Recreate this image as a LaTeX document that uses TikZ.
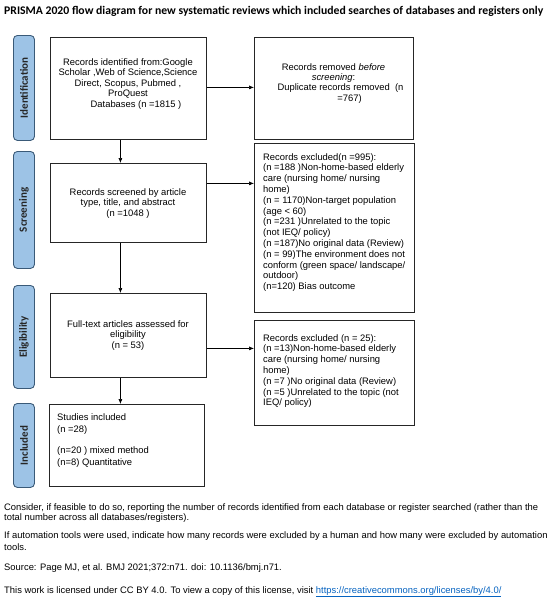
\documentclass[tikz,border=0pt]{standalone}
\usepackage{fontspec}
\setmainfont{Liberation Sans}
\newfontfamily\calibri{Carlito}
\usetikzlibrary{arrows.meta}
\definecolor{barfill}{HTML}{9DC3E6}
\definecolor{barline}{HTML}{3A5A78}
\definecolor{linkblue}{HTML}{0563C1}
\begin{document}
\begin{tikzpicture}[x=1pt,y=-1pt,
  box/.style={draw=black!85, line width=0.8pt, inner sep=0, anchor=north west},
  txt/.style={inner sep=0, font=\fontsize{9.4}{10.6}\selectfont},
  bar/.style={draw=barline, fill=barfill, line width=0.9pt, rounded corners=4pt, inner sep=0, anchor=north west, minimum width=21pt},
  barlabel/.style={rotate=90, inner sep=0, font=\calibri\bfseries\fontsize{11}{12}\selectfont, text=black!85},
  arr/.style={-{Latex[length=5pt,width=4pt]}, line width=0.6pt},
  foot/.style={anchor=base west, inner sep=0, font=\fontsize{9.4}{10}\selectfont}]
\useasboundingbox[fill=white] (0,0) rectangle (550,597);

% title
\node[anchor=base west, inner sep=0, font=\calibri\bfseries\fontsize{11.7}{13}\selectfont] (title) at (4,14)
  {PRISMA 2020 flow diagram for new systematic reviews which included searches of databases and registers only};

% side bars
\node[bar, minimum height=105pt] (bid) at (13,35) {};
\node[barlabel] (lid) at (bid.center) {Identification};
\node[bar, minimum height=117pt] (bsc) at (13,151) {};
\node[barlabel] (lsc) at (bsc.center) {Screening};
\node[bar, minimum height=103pt] (bel) at (13,285) {};
\node[barlabel] (lel) at (bel.center) {Eligibility};
\node[bar, minimum height=84pt] (bin) at (13,403) {};
\node[barlabel] (lin) at (bin.center) {Included};

% boxes
\node[box, minimum width=156pt, minimum height=102pt] (b1) at (50,37) {};
\node[box, minimum width=156pt, minimum height=79pt] (b2) at (50,163) {};
\node[box, minimum width=156pt, minimum height=84pt] (b3) at (50,293) {};
\node[box, minimum width=155pt, minimum height=82pt] (b4) at (49,404) {};
\node[box, minimum width=159pt, minimum height=102pt] (r1) at (254,37) {};
\node[box, minimum width=160pt, minimum height=169pt] (r2) at (254,143) {};
\node[box, minimum width=160pt, minimum height=105pt] (r3) at (254,320) {};

% texts
\node[txt, anchor=north, align=center] (t1) at (128,58)
  {Records identified from:Google\\Scholar ,Web of Science,Science\\Direct, Scopus, Pubmed ,\\ProQuest\\\hspace*{16pt}Databases (n =1815 )};
\node[txt, anchor=north, align=center] (t2) at (128,188)
  {Records screened by article\\type, title, and abstract\\(n =1048 )};
\node[txt, anchor=north, align=center] (t3) at (128,320)
  {Full-text articles assessed for\\eligibility\\(n = 53)};
\node[txt, anchor=north west, align=left, font=\fontsize{9.4}{12}\selectfont] (t4) at (57,413)
  {Studies included\\(n =28)\\[9pt](n=20 ) mixed method\\(n=8) Quantitative};
\node[txt, anchor=north, align=center, font=\fontsize{9.4}{10.4}\selectfont] (tr1) at (333.5,63)
  {Records removed \textit{before}\\\textit{screening}:\hspace*{10pt}\\\hspace*{14pt}Duplicate records removed\ \ (n\\\hspace*{32pt}=767)};
\node[txt, anchor=north west, align=left, font=\fontsize{9.4}{10.8}\selectfont] (tr2) at (263,153)
  {Records excluded(n =995):\\(n =188 )Non-home-based elderly\\care (nursing home/ nursing\\home)\\(n = 1170)Non-target population\\(age < 60)\\(n =231 )Unrelated to the topic\\(not IEQ/ policy)\\(n =187)No original data (Review)\\(n = 99)The environment does not\\conform (green space/ landscape/\\outdoor)\\(n=120) Bias outcome};
\node[txt, anchor=north west, align=left, font=\fontsize{9.4}{10.8}\selectfont] (tr3) at (263,334)
  {Records excluded (n = 25):\\(n =13)Non-home-based elderly\\care (nursing home/ nursing\\home)\\(n =7 )No original data (Review)\\(n =5 )Unrelated to the topic (not\\IEQ/ policy)};

% connectors
\draw[arr] ([xshift=-8pt]b1.south) -- ([xshift=-8pt]b2.north);
\draw[arr] ([xshift=-8pt]b2.south) -- ([xshift=-8pt]b3.north);
\draw[arr] ([xshift=-8pt]b3.south) -- ([xshift=-8pt]b3.south |- b4.north);
\draw[arr] ([yshift=1pt]b1.east) -- ([yshift=1pt]b1.east -| r1.west);
\draw[arr] ([yshift=19.5pt]b2.east) -- ([yshift=19.5pt]b2.east -| r2.west);
\draw[arr] ([yshift=-13pt]b3.east) -- ([yshift=-13pt]b3.east -| r3.west);

% footer
\node[foot] (f1) at (4,510) {Consider, if feasible to do so, reporting the number of records identified from each database or register searched (rather than the};
\node[foot] (f2) at (4,520) {total number across all databases/registers).};
\node[foot] (f3) at (4,538) {If automation tools were used, indicate how many records were excluded by a human and how many were excluded by automation};
\node[foot] (f4) at (4,550) {tools.};
\node[foot] (f5) at (4,570) {Source: Page MJ, et al. BMJ 2021;372:n71. doi: 10.1136/bmj.n71.};
\node[foot] (f6) at (4,593) {This work is licensed under CC BY 4.0. To view a copy of this license, visit \textcolor{linkblue}{\underline{https://creativecommons.org/licenses/by/4.0/}}};
\end{tikzpicture}
\end{document}
